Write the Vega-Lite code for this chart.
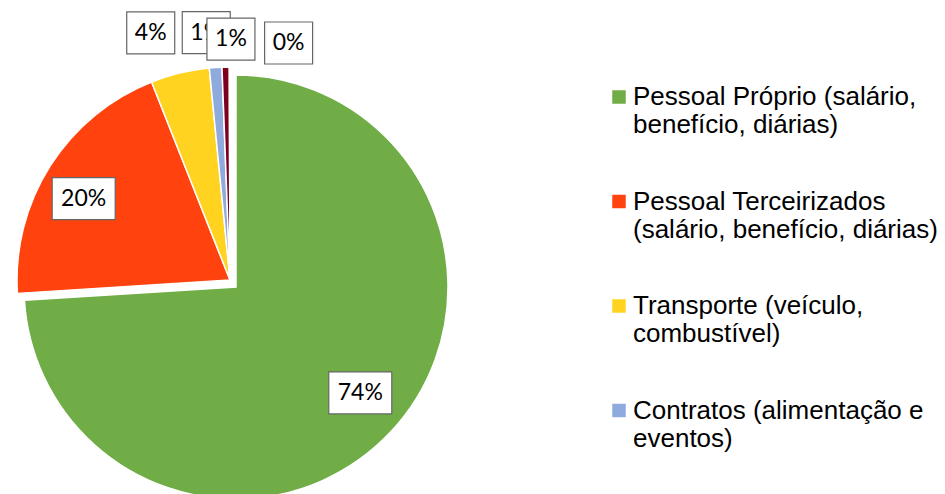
{
  "$schema": "https://vega.github.io/schema/vega-lite/v6.json",
  "width": 945,
  "height": 494,
  "autosize": {"type": "none"},
  "padding": 0,
  "background": "white",
  "config": {"view": {"stroke": null}},
  "data": {
    "values": [
      {"categoria": "Pessoal Próprio (salário, benefício, diárias)", "valor": 74.0},
      {"categoria": "Pessoal Terceirizados (salário, benefício, diárias)", "valor": 20.0},
      {"categoria": "Transporte (veículo, combustível)", "valor": 4.45},
      {"categoria": "Contratos (alimentação e eventos)", "valor": 0.95},
      {"categoria": "Material de consumo", "valor": 0.55},
      {"categoria": "Outros", "valor": 0.05}
    ]
  },
  "transform": [
    {"window": [{"op": "row_number", "as": "idx"}, {"op": "sum", "field": "valor", "as": "cum"}], "frame": [null, 0]},
    {"joinaggregate": [{"op": "sum", "field": "valor", "as": "total"}]},
    {"calculate": "(datum.cum - datum.valor) / datum.total * 100", "as": "t0"},
    {"calculate": "datum.cum / datum.total * 100", "as": "t1"},
    {"calculate": "format(datum.valor / datum.total, '.0%')", "as": "rotulo"},
    {"calculate": "(datum.t0 + datum.t1) / 100 * PI", "as": "mid"},
    {"calculate": "datum.idx <= 2 ? 165 : 248", "as": "r"},
    {"calculate": "datum.idx == 1 ? 6 : 0", "as": "ox"},
    {"calculate": "datum.idx == 1 ? -7 : 0", "as": "oy"},
    {"calculate": "[4, -7, -21, -7, 6, 59][datum.idx - 1]", "as": "nx"},
    {"calculate": "[7, -7, 6, 0, -7, -11][datum.idx - 1]", "as": "ny"},
    {"calculate": "datum.r * sin(datum.mid) + datum.ox + datum.nx", "as": "lx"},
    {"calculate": "datum.r * cos(datum.mid) + datum.oy + datum.ny", "as": "ly"},
    {"calculate": "9 + 7.5 * length(datum.rotulo)", "as": "hw"},
    {"calculate": "datum.lx - datum.hw", "as": "bx0"},
    {"calculate": "datum.lx + datum.hw", "as": "bx1"},
    {"calculate": "datum.ly - 21", "as": "by0"},
    {"calculate": "datum.ly + 21", "as": "by1"}
  ],
  "layer": [
    {
      "transform": [{"filter": "datum.idx > 1"}],
      "mark": {"type": "arc", "radius": 213, "stroke": "white", "strokeWidth": 1.5},
      "encoding": {
        "x": {"datum": 0, "type": "quantitative", "scale": {"domain": [-230, 715], "nice": false, "zero": false}, "axis": null},
        "y": {"datum": 0, "type": "quantitative", "scale": {"domain": [-214, 280], "nice": false, "zero": false}, "axis": null},
        "theta": {"field": "t0", "type": "quantitative", "stack": null, "scale": {"domain": [0, 100]}},
        "theta2": {"field": "t1"},
        "color": {
          "field": "categoria",
          "type": "nominal",
          "sort": null,
          "scale": {
            "domain": [
              "Pessoal Próprio (salário, benefício, diárias)",
              "Pessoal Terceirizados (salário, benefício, diárias)",
              "Transporte (veículo, combustível)",
              "Contratos (alimentação e eventos)",
              "Material de consumo",
              "Outros"
            ],
            "range": ["#70AD47", "#FF420E", "#FFD320", "#8FAADC", "#7E0021", "#A5A5A5"]
          },
          "legend": {
            "title": null,
            "orient": "none",
            "legendX": 606,
            "legendY": 84,
            "padding": 0,
            "values": [
              "Pessoal Próprio (salário, benefício, diárias)",
              "Pessoal Terceirizados (salário, benefício, diárias)",
              "Transporte (veículo, combustível)",
              "Contratos (alimentação e eventos)"
            ],
            "symbolType": "square",
            "symbolSize": 182,
            "symbolStrokeWidth": 0,
            "symbolOpacity": 1,
            "labelFont": "Liberation Sans",
            "labelFontSize": 26,
            "labelColor": "#000000",
            "labelLimit": 500,
            "labelOffset": 1,
            "labelBaseline": "middle",
            "rowPadding": 50.5,
            "labelExpr": "datum.label == 'Pessoal Próprio (salário, benefício, diárias)' ? ['Pessoal Próprio (salário,', 'benefício, diárias)'] : datum.label == 'Pessoal Terceirizados (salário, benefício, diárias)' ? ['Pessoal Terceirizados', '(salário, benefício, diárias)'] : datum.label == 'Transporte (veículo, combustível)' ? ['Transporte (veículo,', 'combustível)'] : ['Contratos (alimentação e', 'eventos)']",
            "encode": {"labels": {"update": {"lineHeight": {"value": 29}}}}
          }
        }
      }
    },
    {
      "transform": [{"filter": "datum.idx == 1"}],
      "mark": {"type": "arc", "radius": 212, "stroke": "white", "strokeWidth": 1.5},
      "encoding": {
        "x": {"datum": 6, "type": "quantitative"},
        "y": {"datum": -7, "type": "quantitative"},
        "theta": {"field": "t0", "type": "quantitative", "stack": null},
        "theta2": {"field": "t1"},
        "color": {"field": "categoria", "type": "nominal", "sort": null}
      }
    },
    {
      "transform": [{"filter": "datum.idx <= 4"}],
      "mark": {"type": "rect", "fill": "white", "stroke": "#666666", "strokeWidth": 1.2},
      "encoding": {
        "x": {"field": "bx0", "type": "quantitative"},
        "x2": {"field": "bx1"},
        "y": {"field": "by0", "type": "quantitative"},
        "y2": {"field": "by1"}
      }
    },
    {
      "transform": [{"filter": "datum.idx <= 4"}],
      "mark": {"type": "text", "font": "Lato", "fontSize": 23, "color": "#000000", "align": "center", "baseline": "middle"},
      "encoding": {
        "x": {"field": "lx", "type": "quantitative"},
        "y": {"field": "ly", "type": "quantitative"},
        "text": {"field": "rotulo"}
      }
    },
    {
      "transform": [{"filter": "datum.idx > 4"}],
      "mark": {"type": "rect", "fill": "white", "stroke": "#666666", "strokeWidth": 1.2},
      "encoding": {
        "x": {"field": "bx0", "type": "quantitative"},
        "x2": {"field": "bx1"},
        "y": {"field": "by0", "type": "quantitative"},
        "y2": {"field": "by1"}
      }
    },
    {
      "transform": [{"filter": "datum.idx > 4"}],
      "mark": {"type": "text", "font": "Lato", "fontSize": 23, "color": "#000000", "align": "center", "baseline": "middle"},
      "encoding": {
        "x": {"field": "lx", "type": "quantitative"},
        "y": {"field": "ly", "type": "quantitative"},
        "text": {"field": "rotulo"}
      }
    }
  ]
}
